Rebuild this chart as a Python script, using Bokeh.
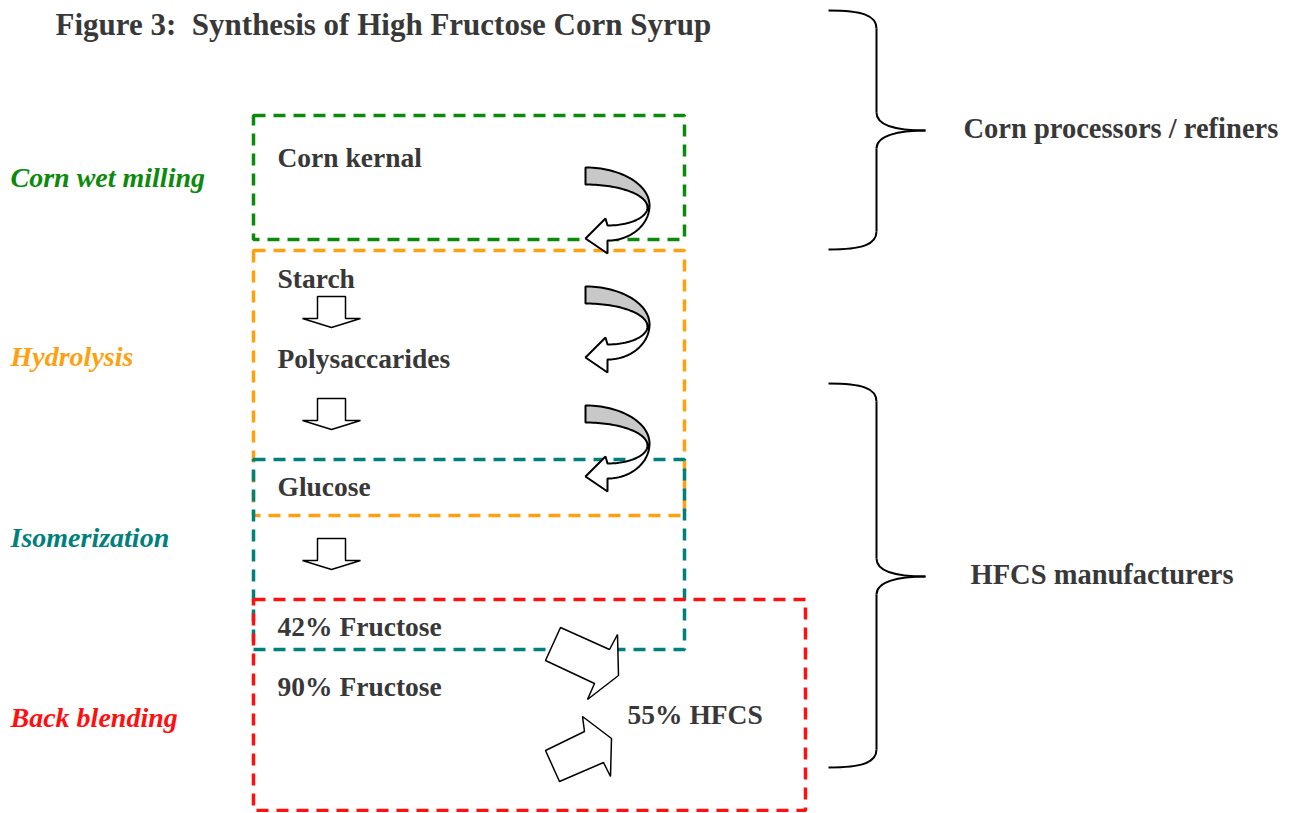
import numpy as np
from bokeh.plotting import figure
from bokeh.models import Range1d
from bokeh.core.properties import value
from bokeh.embed import file_html
from bokeh.resources import INLINE

# ---------------- data ----------------
title_text = "Figure 3:\u00a0 Synthesis of High Fructose Corn Syrup"

stage_names = ["Corn wet milling", "Hydrolysis", "Isomerization", "Back blending"]
stage_colors = ["#0c8a0c", "#ffa010", "#00807c", "#ff1010"]
stage_label_y = [177, 356, 537, 717]
# stage boxes: left, right, top, bottom
stage_left = [253, 253, 253, 253]
stage_right = [684, 684, 684, 805]
stage_top = [115, 250, 459, 599]
stage_bottom = [239, 515, 649, 810]

step_names = ["Corn kernal", "Starch", "Polysaccarides", "Glucose",
              "42% Fructose", "90% Fructose", "55% HFCS"]
step_x = [277, 277, 277, 277, 277, 277, 627]
step_y = [157, 278, 358, 486, 626, 686, 714]

down_arrow_x = [331, 331, 331]
down_arrow_top = [296, 398, 538]

curve_arrow_x = [585, 585, 585]
curve_arrow_top = [167, 286, 405]

group_names = ["Corn processors / refiners", "HFCS manufacturers"]
group_label_x = [963, 970]
group_top = [10, 383]
group_mid = [130, 576]
group_bottom = [249, 767]

blend_arrow_1 = ([560, 609, 617, 618, 587, 594, 545],
                 [627, 649, 634, 675, 699, 683, 660])
blend_arrow_2 = ([545, 584, 582, 611, 610, 603, 559],
                 [750, 731, 716, 738, 776, 762, 781])

TEXT = "#383838"
SERIF = value("Liberation Serif")

W, H = 1295, 812
p = figure(width=W, height=H, output_backend="svg", toolbar_location=None,
           x_range=Range1d(0, W), y_range=Range1d(H, 0),
           x_axis_location=None, y_axis_location=None, min_border=0,
           background_fill_color="white", border_fill_color="white")
p.grid.visible = False
p.outline_line_color = None

# title
p.text(x=[55], y=[24], text=[title_text], text_font=SERIF, text_font_size="31px",
       text_font_style="bold", text_color=TEXT, text_baseline="middle")

# stage boxes
for i in range(len(stage_names)):
    p.quad(left=[stage_left[i]], right=[stage_right[i]], top=[stage_top[i]],
           bottom=[stage_bottom[i]], fill_alpha=0, line_color=stage_colors[i],
           line_width=3.5, line_dash="12 8")
    p.text(x=[10], y=[stage_label_y[i]], text=[stage_names[i]], text_font=SERIF,
           text_font_size="28px", text_font_style="bold italic",
           text_color=stage_colors[i], text_baseline="middle")

# step labels
p.text(x=step_x, y=step_y, text=step_names, text_font=SERIF, text_font_size="27.5px",
       text_font_style="bold", text_color=TEXT, text_baseline="middle")

# block down arrows
for cx, top in zip(down_arrow_x, down_arrow_top):
    xs = [cx - 14, cx + 14, cx + 14, cx + 29, cx, cx - 29, cx - 14]
    ys = [top, top, top + 22, top + 22, top + 31, top + 22, top + 22]
    p.patch(xs, ys, fill_color="white", line_color="black", line_width=1.5)


def arc(cx, cy, rx, ry, t0, t1, n=40):
    t = np.linspace(t0, t1, n)
    return list(cx + rx * np.cos(t)), list(cy - ry * np.sin(t))


# curved arrows
for x0, y0 in zip(curve_arrow_x, curve_arrow_top):
    # white lower part with arrow head
    ox, oy = arc(x0 + 22, y0 + 38, 42, 35, 0, -np.pi / 2)
    ix, iy = arc(x0 + 22, y0 + 40, 40, 18, -np.pi / 2, 0)
    xs = ox + [x0 + 22, x0, x0 + 20] + ix
    ys = oy + [y0 + 86, y0 + 71, y0 + 51] + iy
    p.patch(xs, ys, fill_color="white", line_color="black", line_width=2)
    # grey upper part
    ox, oy = arc(x0, y0 + 38, 64, 38, np.pi / 2, 0)
    ix, iy = arc(x0, y0 + 40, 62, 23, 0, np.pi / 2)
    p.patch(ox + ix, oy + iy, fill_color="#c8c8c8", line_color="black",
            line_width=2)

# back-blending arrows
for bx, by in (blend_arrow_1, blend_arrow_2):
    p.patch(bx, by, fill_color="white", line_color="black", line_width=1.5)

# braces
for i in range(len(group_names)):
    yt, ym, yb = group_top[i], group_mid[i], group_bottom[i]
    xe, xm, xt = 828, 876, 925
    c = 18
    p.bezier(x0=[xe, xm, xt, xm], y0=[yt, ym - c, ym, yb - c],
             x1=[xm, xt, xm, xe], y1=[yt + c, ym, ym + c, yb],
             cx0=[862, xm, 898, xm], cy0=[yt, ym - 5, ym, yb - 5],
             cx1=[xm, 896, xm, 862], cy1=[yt + 5, ym, ym + 5, yb],
             line_color="black", line_width=2)
    p.segment(x0=[xm, xm], y0=[yt + c, ym + c], x1=[xm, xm], y1=[ym - c, yb - c],
              line_color="black", line_width=2)
    p.text(x=[group_label_x[i]], y=[ym - 2], text=[group_names[i]], text_font=SERIF,
           text_font_size="28.5px", text_font_style="bold", text_color=TEXT,
           text_baseline="middle")

open("out.html", "w").write(file_html(p, INLINE))
